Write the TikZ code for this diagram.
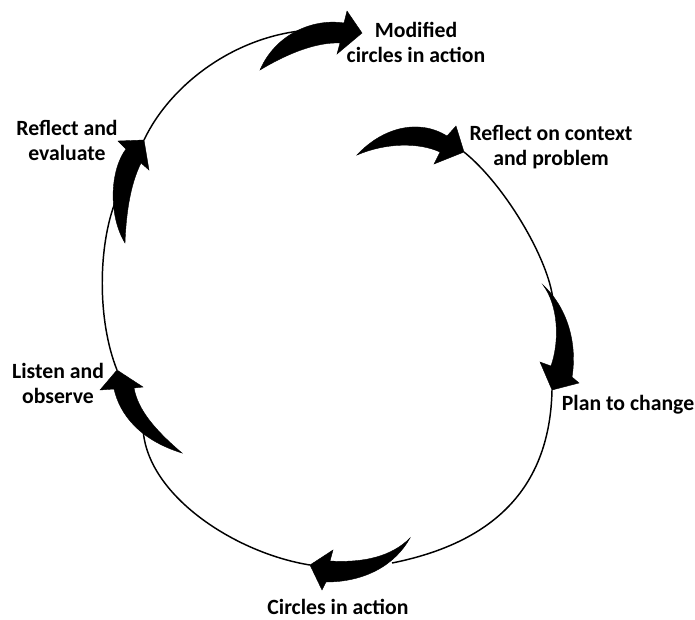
\documentclass[tikz,border=0pt]{standalone}
\usepackage{fontspec}
\setmainfont{Carlito}
\usepackage{tikz}
\usepackage{xcolor}

\tikzset{
    cycleline/.style={line width=1.1pt, line join=round},
    blockarrow/.style={fill=black, draw=black, line width=0.3pt, line join=miter},
    steplabel/.style={font=\bfseries\fontsize{16.3}{18.8}\selectfont, align=center, inner sep=0pt}
}

\begin{document}
\begin{tikzpicture}[x=0.75pt, y=-0.75pt]
        \useasboundingbox (0, 0) rectangle (695, 619);

        % tails and tips of the six block arrows
        \coordinate (t1) at (357, 155);
        \coordinate (h1) at (464, 152);
        \coordinate (t2) at (543, 285);
        \coordinate (h2) at (552, 390);
        \coordinate (t3) at (410, 538);
        \coordinate (h3) at (310, 565);
        \coordinate (t4) at (182, 453);
        \coordinate (h4) at (117, 370);
        \coordinate (t5) at (125, 243);
        \coordinate (h5) at (144, 140);
        \coordinate (t6) at (260, 70);
        \coordinate (h6) at (362, 33);

        % ends of the thin line, hidden under the next arrow
        \coordinate (e2) at (553, 300);
        \coordinate (e3) at (392, 563);
        \coordinate (e4) at (143, 428);
        \coordinate (e5) at (116, 200);
        \coordinate (e6) at (310, 30);

        % the thin cycle
        \draw[cycleline] (h1) .. controls (505, 185) and (549, 260) .. (e2);
        \draw[cycleline] (h2) .. controls (550, 485) and (497, 542) .. (e3);
        \draw[cycleline] (h3) .. controls (235, 553) and (146, 495) .. (e4);
        \draw[cycleline] (h4) .. controls (97, 320) and (98, 245) .. (e5);
        \draw[cycleline] (h5) .. controls (170, 85) and (235, 35) .. (e6);

        % block arrows
        \filldraw[blockarrow] (t1) .. controls (382, 128) and (418, 118) .. (447, 136)
            -- (456, 126) -- (h1) -- (434, 164) -- (440, 152)
            .. controls (418, 142) and (385, 143) .. (t1) -- cycle;
        \filldraw[blockarrow] (t2) .. controls (565, 305) and (578, 340) .. (572, 377)
            -- (579, 383) -- (h2) -- (540, 362) -- (551, 366)
            .. controls (560, 340) and (558, 305) .. (t2) -- cycle;
        \filldraw[blockarrow] (t3) .. controls (392, 556) and (365, 563) .. (330, 561)
            -- (333, 550) -- (h3) -- (322, 590) -- (326, 582)
            .. controls (365, 582) and (395, 565) .. (t3) -- cycle;
        \filldraw[blockarrow] (t4) .. controls (155, 430) and (138, 410) .. (134, 388)
            -- (143, 387) -- (h4) -- (100, 390) -- (114, 389)
            .. controls (120, 415) and (140, 440) .. (t4) -- cycle;
        \filldraw[blockarrow] (t5) .. controls (108, 215) and (110, 170) .. (126, 149)
            -- (118, 141) -- (h5) -- (149, 170) -- (141, 163)
            .. controls (130, 185) and (126, 215) .. (t5) -- cycle;
        \filldraw[blockarrow] (t6) .. controls (275, 35) and (312, 18) .. (344, 23)
            -- (347, 11) -- (h6) -- (337, 54) -- (340, 43)
            .. controls (318, 42) and (290, 52) .. (t6) -- cycle;

        % labels
        \node[steplabel] (context) at (551, 147) {Reflect on context\\and problem};
        \node[steplabel] (plan) at (628, 405) {Plan to change};
        \node[steplabel] (action) at (338, 607) {Circles in action};
        \node[steplabel] (listen) at (58, 383) {Listen and\\observe};
        \node[steplabel] (evaluate) at (67, 140) {Reflect and\\evaluate};
        \node[steplabel] (modified) at (416, 42) {Modified\\circles in action};
    \end{tikzpicture}
\end{document}
